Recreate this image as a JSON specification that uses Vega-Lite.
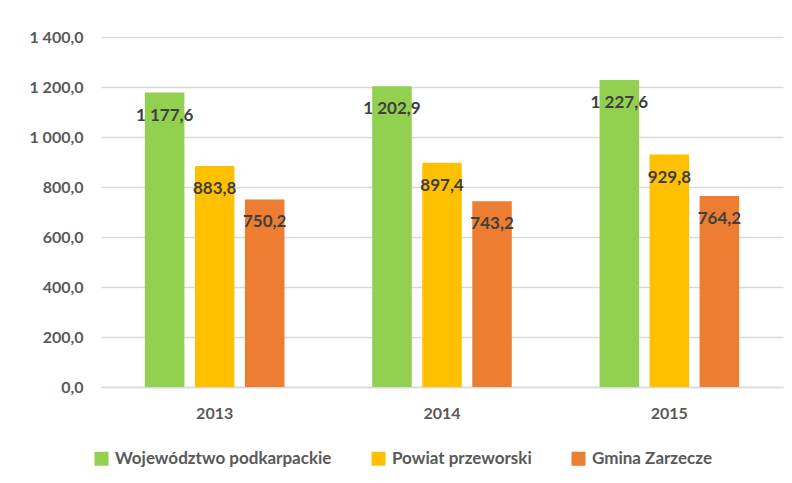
{
  "$schema": "https://vega.github.io/schema/vega-lite/v6.json",
  "width": 682,
  "height": 350,
  "autosize": {"type": "none"},
  "padding": {"left": 101, "top": 37, "right": 9, "bottom": 96},
  "background": "white",
  "config": {
    "locale": {"number": {"decimal": ",", "thousands": " ", "grouping": [3], "currency": ["", ""]}},
    "font": "Lato",
    "view": {"stroke": null},
    "axis": {"labelFont": "Lato", "labelFontSize": 16, "labelColor": "#595959", "ticks": false, "title": null}
  },
  "data": {
    "values": [
      {"rok": "2013", "jednostka": "Województwo podkarpackie", "wartosc": 1177.6},
      {"rok": "2013", "jednostka": "Powiat przeworski", "wartosc": 883.8},
      {"rok": "2013", "jednostka": "Gmina Zarzecze", "wartosc": 750.2},
      {"rok": "2014", "jednostka": "Województwo podkarpackie", "wartosc": 1202.9},
      {"rok": "2014", "jednostka": "Powiat przeworski", "wartosc": 897.4},
      {"rok": "2014", "jednostka": "Gmina Zarzecze", "wartosc": 743.2},
      {"rok": "2015", "jednostka": "Województwo podkarpackie", "wartosc": 1227.6},
      {"rok": "2015", "jednostka": "Powiat przeworski", "wartosc": 929.8},
      {"rok": "2015", "jednostka": "Gmina Zarzecze", "wartosc": 764.2}
    ]
  },
  "encoding": {
    "x": {
      "field": "rok", "type": "nominal",
      "scale": {"paddingInner": 0.386, "paddingOuter": 0.193},
      "axis": {"labelAngle": 0, "labelPadding": 18, "domain": true, "domainColor": "#d9d9d9", "domainWidth": 1.5, "grid": false, "labelFontSize": 16, "labelFontWeight": "bold"}
    },
    "xOffset": {
      "field": "jednostka", "type": "nominal",
      "sort": ["Województwo podkarpackie", "Powiat przeworski", "Gmina Zarzecze"],
      "scale": {"paddingInner": 0.21, "paddingOuter": 0}
    },
    "y": {
      "field": "wartosc", "type": "quantitative",
      "scale": {"domain": [0, 1400], "nice": false},
      "axis": {"values": [0, 200, 400, 600, 800, 1000, 1200, 1400], "format": ",.1f", "domain": false, "grid": true, "gridColor": "#d9d9d9", "gridWidth": 1.5, "labelPadding": 18, "labelFontSize": 16, "labelFontWeight": "bold"}
    }
  },
  "layer": [
    {
      "mark": {"type": "bar"},
      "encoding": {
        "color": {
          "field": "jednostka", "type": "nominal",
          "scale": {"domain": ["Województwo podkarpackie", "Powiat przeworski", "Gmina Zarzecze"], "range": ["#92D050", "#FFC000", "#ED7D31"]},
          "legend": {
            "title": null, "orient": "none", "direction": "horizontal",
            "legendX": -8, "legendY": 413,
            "symbolType": "square", "symbolSize": 196, "symbolStrokeWidth": 0,
            "labelFont": "Lato", "labelFontSize": 17, "labelColor": "#595959", "labelFontWeight": "bold", "labelLimit": 400,
            "labelOffset": 5, "columnPadding": 38, "padding": 0
          }
        }
      }
    },
    {
      "mark": {"type": "text", "baseline": "middle", "align": "center", "dy": 23, "fontSize": 17, "fontWeight": "bold", "color": "#404040"},
      "encoding": {
        "text": {"field": "wartosc", "type": "quantitative", "format": ",.1f"}
      }
    }
  ]
}
